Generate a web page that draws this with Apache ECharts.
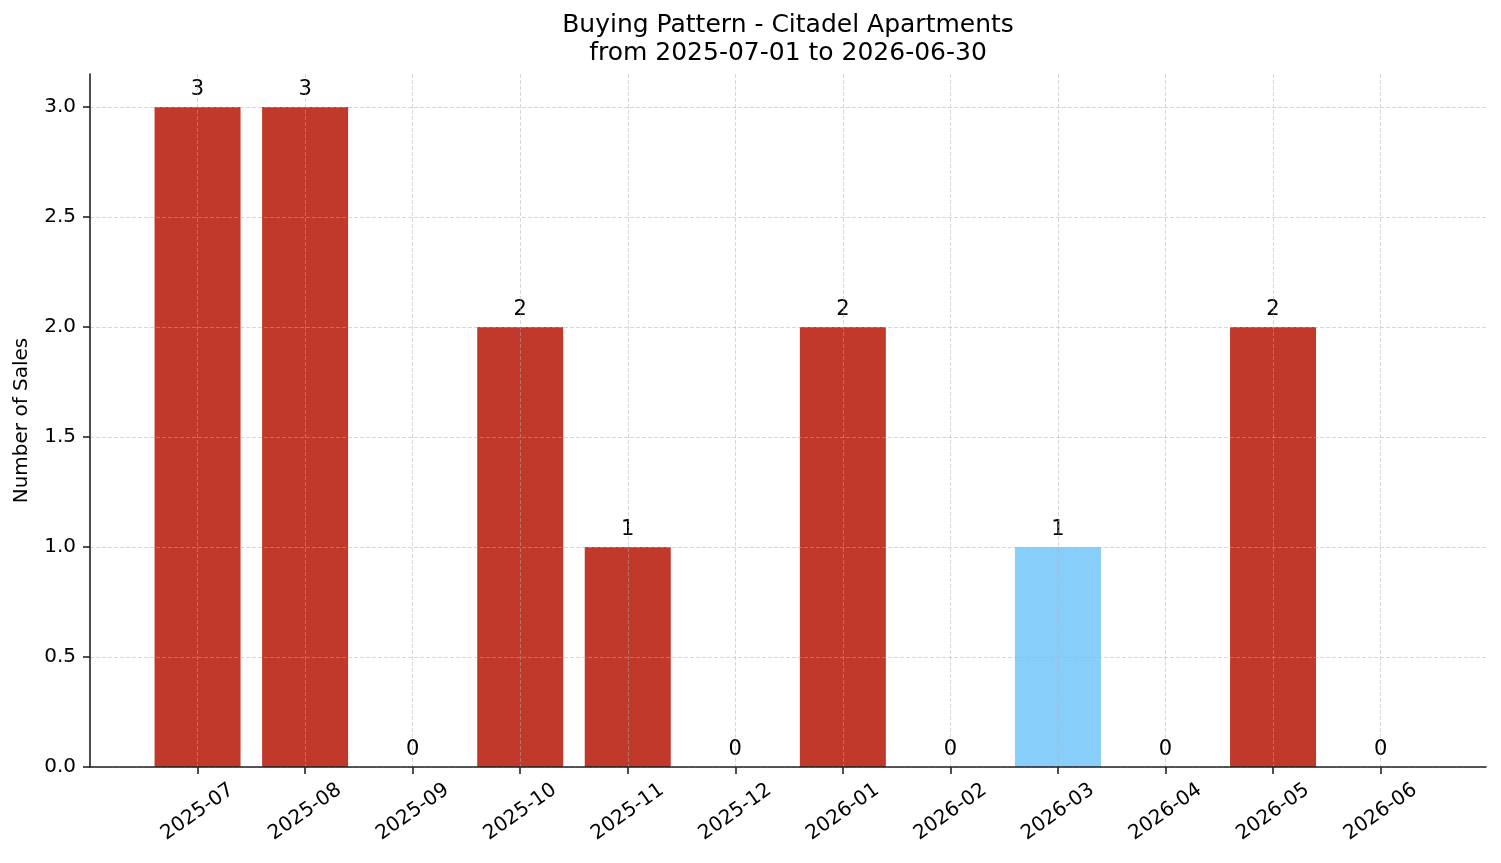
<!DOCTYPE html>
<html>
<head>
<meta charset="utf-8">
<script src="https://cdn.jsdelivr.net/npm/echarts@6/dist/echarts.min.js"></script>
<style>html,body{margin:0;padding:0;background:#fff}#c{width:1501px;height:863px}</style>
</head>
<body>
<div id="c"></div>
<script>
const categories = ['2025-07','2025-08','2025-09','2025-10','2025-11','2025-12','2026-01','2026-02','2026-03','2026-04','2026-05','2026-06'];
const sales = [3, 3, 0, 2, 1, 0, 2, 0, 1, 0, 2, 0];
const highlightIndex = [8];
const yTicks = [0, 0.5, 1.0, 1.5, 2.0, 2.5, 3.0];

const RED = '#C0392B', BLUE = '#87CEFA';
const xIdx = categories.map((c, i) => i);
const chart = echarts.init(document.getElementById('c'), null, {renderer: 'canvas'});
const font = 'DejaVu Sans';
const gridLine = {show: true, lineStyle: {type: [4, 2], color: 'rgba(176,176,176,0.5)', width: 1}};
chart.setOption({
  animation: false,
  backgroundColor: '#fff',
  textStyle: {fontFamily: font},
  title: {
    text: 'Buying Pattern - Citadel Apartments\nfrom 2025-07-01 to 2026-06-30',
    left: 788, textAlign: 'center', top: 11, padding: 0,
    textStyle: {fontFamily: font, fontSize: 25, fontWeight: 'normal', color: '#000', lineHeight: 28}
  },
  grid: {left: 90, right: 15, top: 74, bottom: 96},
  xAxis: {
    type: 'value', min: -1.0, max: 11.98, z: 5,
    axisLine: {show: true, onZero: false, lineStyle: {color: '#222', width: 1.6}},
    axisTick: {show: true, customValues: xIdx, length: 7, lineStyle: {color: '#222', width: 1.6}},
    axisLabel: {customValues: xIdx, rotate: 35, align: 'center', verticalAlign: 'middle',
      color: '#000', fontSize: 20, fontFamily: font, margin: 45,
      formatter: v => categories[Math.round(v)]},
    splitLine: gridLine
  },
  yAxis: {
    type: 'value', min: 0, max: 3.15, z: 5,
    name: 'Number of Sales', nameLocation: 'middle', nameGap: 58,
    nameTextStyle: {fontFamily: font, fontSize: 20, color: '#000'},
    axisLine: {show: true, onZero: false, lineStyle: {color: '#222', width: 1.6}},
    axisTick: {show: true, customValues: yTicks, length: 7, lineStyle: {color: '#222', width: 1.6}},
    axisLabel: {customValues: yTicks, color: '#000', fontSize: 20, fontFamily: font, margin: 14,
      formatter: v => v.toFixed(1)},
    splitLine: gridLine
  },
  series: [{
    type: 'bar', barWidth: 86, z: 2,
    data: sales.map((v, i) => ({value: [i, v], itemStyle: {color: highlightIndex.includes(i) ? BLUE : RED}})),
    label: {show: true, position: 'top', distance: 7, color: '#000', fontSize: 21, fontFamily: font,
      formatter: p => String(p.value[1])}
  }]
});
</script>
</body>
</html>
